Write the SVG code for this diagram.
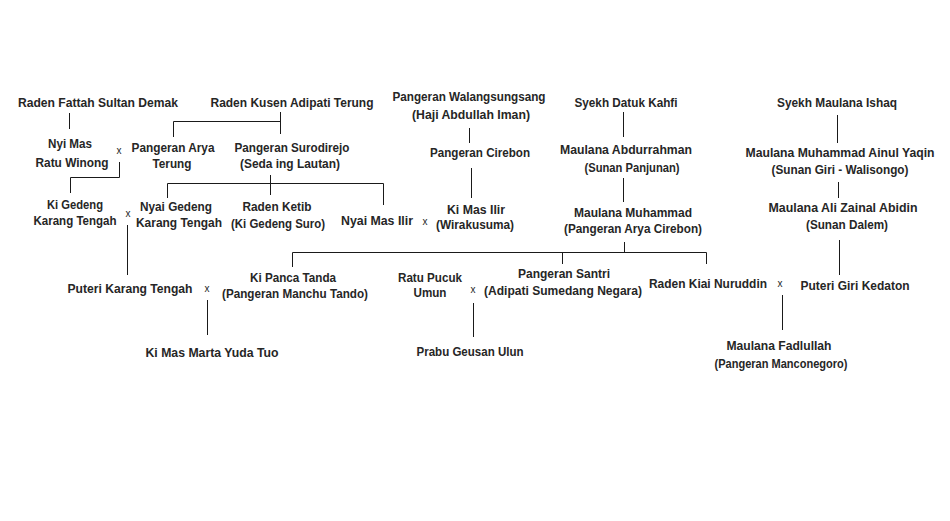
<svg xmlns="http://www.w3.org/2000/svg" width="950" height="521" viewBox="0 0 950 521">
<style>
text{font-family:"Liberation Sans",Arial,sans-serif;font-weight:bold;font-size:13px;fill:#262626;text-anchor:middle}
text.x{font-weight:normal;font-size:10px}
text.s{font-size:12px}
.c line,.c polyline{stroke:#1a1a1a;stroke-width:1;fill:none}
</style>
<rect width="950" height="521" fill="#fff"/>
<g class="c" id="connectors">
<line x1="69.5" y1="113" x2="69.5" y2="129"/>
<line x1="280.5" y1="112" x2="280.5" y2="134"/>
<polyline points="173.5,137 173.5,121.5 280.5,121.5"/>
<polyline points="119.5,162 119.5,177.5 70.5,177.5 70.5,193"/>
<line x1="270.5" y1="175" x2="270.5" y2="195"/>
<polyline points="167.5,198 167.5,183.5 383.5,183.5 383.5,205"/>
<line x1="127.5" y1="225" x2="127.5" y2="275"/>
<line x1="207.5" y1="300" x2="207.5" y2="335"/>
<line x1="469.5" y1="128" x2="469.5" y2="143"/>
<line x1="471.5" y1="168" x2="471.5" y2="198"/>
<line x1="623.5" y1="112" x2="623.5" y2="137"/>
<line x1="623.5" y1="178" x2="623.5" y2="202"/>
<line x1="837.5" y1="115" x2="837.5" y2="143"/>
<line x1="838.5" y1="182" x2="838.5" y2="198"/>
<line x1="839.5" y1="240" x2="839.5" y2="275"/>
<line x1="624.5" y1="242" x2="624.5" y2="252"/>
<polyline points="292.5,267 292.5,252.5 706.5,252.5 706.5,264"/>
<line x1="562.5" y1="252" x2="562.5" y2="264"/>
<line x1="473.5" y1="303" x2="473.5" y2="337"/>
<line x1="782.5" y1="295" x2="782.5" y2="330"/>
</g>
<g id="raden-fattah"><text x="98" y="107" textLength="160" lengthAdjust="spacingAndGlyphs">Raden Fattah Sultan Demak</text></g>
<g id="raden-kusen"><text x="292" y="107" textLength="163" lengthAdjust="spacingAndGlyphs">Raden Kusen Adipati Terung</text></g>
<g id="walangsungsang"><text x="469" y="101" textLength="153" lengthAdjust="spacingAndGlyphs">Pangeran Walangsungsang</text><text x="471" y="119" textLength="118" lengthAdjust="spacingAndGlyphs">(Haji Abdullah Iman)</text></g>
<g id="datuk-kahfi"><text x="626" y="107" textLength="103" lengthAdjust="spacingAndGlyphs">Syekh Datuk Kahfi</text></g>
<g id="maulana-ishaq"><text x="837" y="107" textLength="120" lengthAdjust="spacingAndGlyphs">Syekh Maulana Ishaq</text></g>
<g id="nyi-mas-ratu-winong"><text x="70" y="148" textLength="44" lengthAdjust="spacingAndGlyphs">Nyi Mas</text><text x="72" y="167" textLength="73" lengthAdjust="spacingAndGlyphs">Ratu Winong</text></g>
<g id="x1"><text class="x" x="119" y="154">x</text></g>
<g id="arya-terung"><text x="173" y="152" textLength="83" lengthAdjust="spacingAndGlyphs">Pangeran Arya</text><text x="172" y="168" textLength="39" lengthAdjust="spacingAndGlyphs">Terung</text></g>
<g id="surodirejo"><text x="292" y="152" textLength="115" lengthAdjust="spacingAndGlyphs">Pangeran Surodirejo</text><text x="290" y="168" textLength="100" lengthAdjust="spacingAndGlyphs">(Seda ing Lautan)</text></g>
<g id="pangeran-cirebon"><text x="480" y="157" textLength="100" lengthAdjust="spacingAndGlyphs">Pangeran Cirebon</text></g>
<g id="abdurrahman"><text x="626" y="154" textLength="132" lengthAdjust="spacingAndGlyphs">Maulana Abdurrahman</text><text x="632" y="172" textLength="95" lengthAdjust="spacingAndGlyphs">(Sunan Panjunan)</text></g>
<g id="ainul-yaqin"><text x="840" y="157" textLength="189" lengthAdjust="spacingAndGlyphs">Maulana Muhammad Ainul Yaqin</text><text x="840" y="174" textLength="137" lengthAdjust="spacingAndGlyphs">(Sunan Giri - Walisongo)</text></g>
<g id="ki-gedeng-karang-tengah"><text x="75" y="209" textLength="56" lengthAdjust="spacingAndGlyphs">Ki Gedeng</text><text x="75" y="225" textLength="83" lengthAdjust="spacingAndGlyphs">Karang Tengah</text></g>
<g id="x2"><text class="x" x="128" y="217">x</text></g>
<g id="nyai-gedeng"><text x="176" y="211" textLength="72" lengthAdjust="spacingAndGlyphs">Nyai Gedeng</text><text x="179" y="227" textLength="86" lengthAdjust="spacingAndGlyphs">Karang Tengah</text></g>
<g id="raden-ketib"><text x="277" y="211" textLength="69" lengthAdjust="spacingAndGlyphs">Raden Ketib</text><text x="278" y="228" textLength="94" lengthAdjust="spacingAndGlyphs">(Ki Gedeng Suro)</text></g>
<g id="nyai-mas-ilir"><text x="377" y="225" textLength="72" lengthAdjust="spacingAndGlyphs">Nyai Mas Ilir</text></g>
<g id="x3"><text class="x" x="425" y="225">x</text></g>
<g id="ki-mas-ilir"><text class="s" x="476" y="214" textLength="58" lengthAdjust="spacingAndGlyphs">Ki Mas Ilir</text><text class="s" x="475" y="229" textLength="78" lengthAdjust="spacingAndGlyphs">(Wirakusuma)</text></g>
<g id="maulana-muhammad"><text x="633" y="217" textLength="118" lengthAdjust="spacingAndGlyphs">Maulana Muhammad</text><text x="633" y="233" textLength="138" lengthAdjust="spacingAndGlyphs">(Pangeran Arya Cirebon)</text></g>
<g id="ali-zainal-abidin"><text x="843" y="212" textLength="149" lengthAdjust="spacingAndGlyphs">Maulana Ali Zainal Abidin</text><text x="847" y="229" textLength="82" lengthAdjust="spacingAndGlyphs">(Sunan Dalem)</text></g>
<g id="puteri-karang-tengah"><text x="130" y="293" textLength="125" lengthAdjust="spacingAndGlyphs">Puteri Karang Tengah</text></g>
<g id="x4"><text class="x" x="207" y="292">x</text></g>
<g id="ki-panca-tanda"><text x="293" y="282" textLength="86" lengthAdjust="spacingAndGlyphs">Ki Panca Tanda</text><text x="295" y="298" textLength="146" lengthAdjust="spacingAndGlyphs">(Pangeran Manchu Tando)</text></g>
<g id="ratu-pucuk-umun"><text x="430" y="282" textLength="64" lengthAdjust="spacingAndGlyphs">Ratu Pucuk</text><text x="430" y="297" textLength="33" lengthAdjust="spacingAndGlyphs">Umun</text></g>
<g id="x5"><text class="x" x="473" y="293">x</text></g>
<g id="pangeran-santri"><text x="564" y="278" textLength="92" lengthAdjust="spacingAndGlyphs">Pangeran Santri</text><text x="563" y="295" textLength="158" lengthAdjust="spacingAndGlyphs">(Adipati Sumedang Negara)</text></g>
<g id="kiai-nuruddin"><text x="708" y="288" textLength="118" lengthAdjust="spacingAndGlyphs">Raden Kiai Nuruddin</text></g>
<g id="x6"><text class="x" x="780" y="287">x</text></g>
<g id="puteri-giri-kedaton"><text x="855" y="290" textLength="109" lengthAdjust="spacingAndGlyphs">Puteri Giri Kedaton</text></g>
<g id="marta-yuda-tuo"><text x="212" y="357" textLength="133" lengthAdjust="spacingAndGlyphs">Ki Mas Marta Yuda Tuo</text></g>
<g id="geusan-ulun"><text x="470" y="356" textLength="107" lengthAdjust="spacingAndGlyphs">Prabu Geusan Ulun</text></g>
<g id="fadlullah"><text x="779" y="350" textLength="105" lengthAdjust="spacingAndGlyphs">Maulana Fadlullah</text><text x="781" y="368" textLength="133" lengthAdjust="spacingAndGlyphs">(Pangeran Manconegoro)</text></g>
</svg>
